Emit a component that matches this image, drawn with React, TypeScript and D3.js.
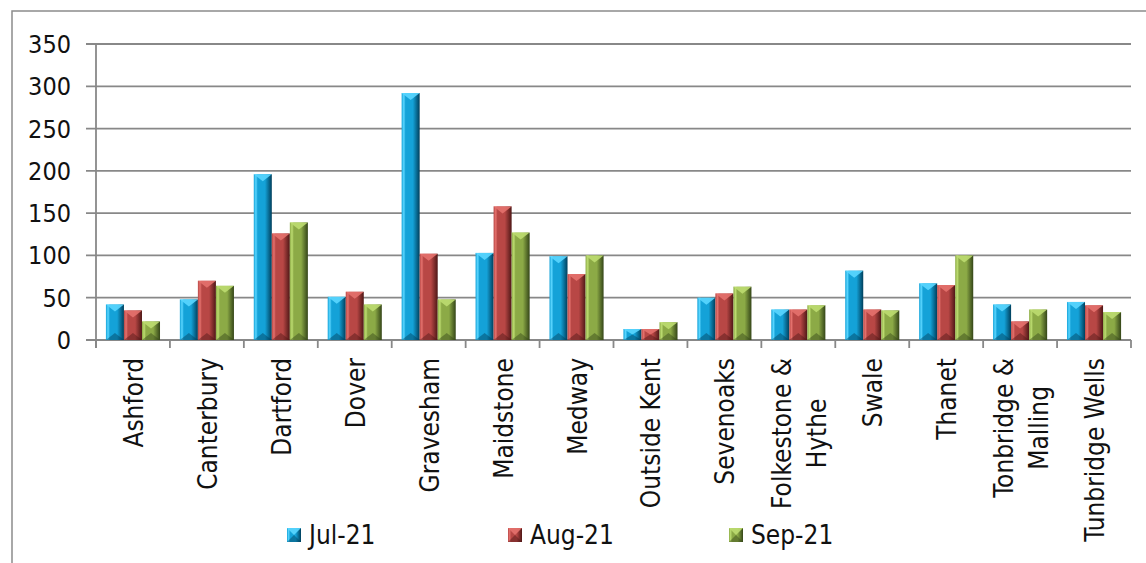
import { useEffect, useRef } from "react";
import * as d3 from "d3";

const categories = [
  "Ashford",
  "Canterbury",
  "Dartford",
  "Dover",
  "Gravesham",
  "Maidstone",
  "Medway",
  "Outside Kent",
  "Sevenoaks",
  "Folkestone &\nHythe",
  "Swale",
  "Thanet",
  "Tonbridge &\nMalling",
  "Tunbridge Wells",
];

const seriesNames = ["Jul-21", "Aug-21", "Sep-21"];
const jul = [42, 48, 196, 51, 292, 103, 99, 13, 50, 36, 82, 67, 42, 45];
const aug = [35, 70, 126, 57, 102, 158, 78, 13, 55, 36, 36, 65, 22, 41];
const sep = [22, 64, 139, 42, 48, 127, 100, 21, 63, 41, 35, 100, 36, 33];
const seriesValues = [jul, aug, sep];
const yTicks = [0, 50, 100, 150, 200, 250, 300, 350];

// light, mid, dark for the bevelled look
const palette = [
  { light: "#5ad6ff", mid: "#14a2d8", dark: "#003f5c" },
  { light: "#e4716d", mid: "#b84745", dark: "#4e1716" },
  { light: "#bcdc70", mid: "#8caa46", dark: "#344518" },
];

const W = 1146;
const H = 563;
const FONT = "'DejaVu Sans Condensed', 'DejaVu Sans', sans-serif";

export default function App() {
  const ref = useRef<SVGSVGElement | null>(null);

  useEffect(() => {
    const svg = d3.select(ref.current);
    svg.selectAll("*").remove();
    svg.attr("width", W).attr("height", H).attr("viewBox", `0 0 ${W} ${H}`);

    const left = 96;
    const right = 1131;
    const top = 44;
    const bottom = 340;

    const x = d3.scaleBand<string>().domain(categories).range([left, right]).paddingInner(0).paddingOuter(0);
    const xs = d3.scaleBand<string>().domain(seriesNames).range([0, x.bandwidth()]).paddingInner(0).paddingOuter(0.55);
    const y = d3.scaleLinear().domain([0, 350]).range([bottom, top]);

    const defs = svg.append("defs");
    palette.forEach((p, i) => {
      const g = defs
        .append("linearGradient")
        .attr("id", `bar-grad-${i}`)
        .attr("x1", "0")
        .attr("x2", "1")
        .attr("y1", "0")
        .attr("y2", "0");
      g.append("stop").attr("offset", "0%").attr("stop-color", p.mid);
      g.append("stop").attr("offset", "12%").attr("stop-color", p.light);
      g.append("stop").attr("offset", "22%").attr("stop-color", p.mid);
      g.append("stop").attr("offset", "62%").attr("stop-color", p.mid);
      g.append("stop").attr("offset", "100%").attr("stop-color", p.dark);
    });

    svg
      .append("rect")
      .attr("x", 12)
      .attr("y", 11)
      .attr("width", 1160)
      .attr("height", 580)
      .attr("fill", "white")
      .attr("stroke", "#8c8c8c")
      .attr("stroke-width", 1.5);

    // gridlines
    svg
      .append("g")
      .selectAll("line")
      .data(yTicks)
      .join("line")
      .attr("x1", left - 10)
      .attr("x2", right)
      .attr("y1", (d) => y(d))
      .attr("y2", (d) => y(d))
      .attr("stroke", "#888")
      .attr("stroke-width", 1.8);

    // y axis line
    svg
      .append("line")
      .attr("x1", left)
      .attr("x2", left)
      .attr("y1", top)
      .attr("y2", bottom + 8)
      .attr("stroke", "#888")
      .attr("stroke-width", 1.8);

    // x tick marks at category boundaries
    const bounds = categories.map((c) => x(c)! + x.bandwidth()).concat([left]);
    svg
      .append("g")
      .selectAll("line")
      .data(bounds)
      .join("line")
      .attr("x1", (d) => d)
      .attr("x2", (d) => d)
      .attr("y1", bottom)
      .attr("y2", bottom + 8)
      .attr("stroke", "#888")
      .attr("stroke-width", 1.8);

    // y labels
    svg
      .append("g")
      .selectAll("text")
      .data(yTicks)
      .join("text")
      .attr("x", 71)
      .attr("y", (d) => y(d))
      .attr("dy", "0.36em")
      .attr("text-anchor", "end")
      .attr("font-family", FONT)
      .attr("font-stretch", "condensed")
      .attr("font-size", 25)
      .attr("fill", "#111")
      .text((d) => d);

    // bars
    const drawBevelBar = (
      parent: d3.Selection<SVGGElement, unknown, null, undefined>,
      bx: number,
      by: number,
      bw: number,
      bh: number,
      si: number
    ) => {
      const p = palette[si];
      parent
        .append("rect")
        .attr("x", bx)
        .attr("y", by)
        .attr("width", bw)
        .attr("height", bh)
        .attr("fill", `url(#bar-grad-${si})`);
      const th = Math.min(7, bh / 2);
      parent
        .append("path")
        .attr("d", `M${bx},${by}L${bx + bw},${by}L${bx + bw / 2},${by + th}Z`)
        .attr("fill", p.light)
        .attr("opacity", 0.9);
      parent
        .append("path")
        .attr("d", `M${bx},${by + bh}L${bx + bw},${by + bh}L${bx + bw / 2},${by + bh - th}Z`)
        .attr("fill", p.dark)
        .attr("opacity", 0.45);
    };

    const barsG = svg.append("g");
    seriesValues.forEach((vals, si) => {
      vals.forEach((v, ci) => {
        const bx = x(categories[ci])! + xs(seriesNames[si])!;
        drawBevelBar(barsG, bx, y(v), xs.bandwidth(), y(0) - y(v), si);
      });
    });

    // category labels
    const labelsG = svg.append("g");
    const lineGap = 35;
    categories.forEach((c) => {
      const lines = c.split("\n");
      const cx = x(c)! + x.bandwidth() / 2;
      const texts = lines.map((ln) =>
        labelsG
          .append("text")
          .attr("font-family", FONT)
          .attr("font-stretch", "condensed")
          .attr("font-size", 26)
          .attr("fill", "#111")
          .attr("text-anchor", "middle")
          .attr("dominant-baseline", "central")
          .text(ln)
      );
      const maxLen = d3.max(texts, (t) => (t.node() as SVGTextElement).getComputedTextLength()) ?? 0;
      const cy = 358 + maxLen / 2;
      texts.forEach((t, li) => {
        const off = (li - (lines.length - 1) / 2) * lineGap + 1;
        t.attr("transform", `translate(${cx + off},${cy}) rotate(-90)`);
      });
    });

    // legend
    const legendG = svg.append("g");
    seriesNames.forEach((name, si) => {
      const lx = 287 + si * 221;
      const g = legendG.append("g");
      drawBevelBar(g as any, lx, 528, 14, 14, si);
      g.append("text")
        .attr("x", lx + 22)
        .attr("y", 535)
        .attr("dy", "0.36em")
        .attr("font-family", FONT)
        .attr("font-stretch", "condensed")
        .attr("font-size", 26)
        .attr("fill", "#111")
        .text(name);
    });
  }, []);

  return (
    <div style={{ position: "absolute", left: 0, top: 0, width: W, height: H, overflow: "hidden", background: "white" }}>
      <svg ref={ref} />
    </div>
  );
}
